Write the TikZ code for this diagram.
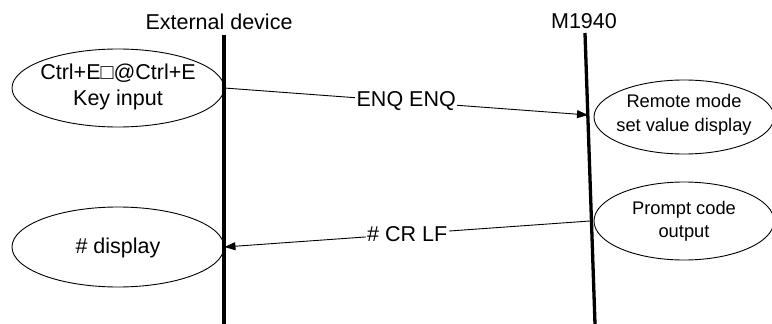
\documentclass[tikz,border=0pt]{standalone}
\usepackage{fontspec}
\setmainfont{Liberation Sans}
\usetikzlibrary{arrows.meta,shapes.geometric}
\begin{document}
\begin{tikzpicture}[x=1pt,y=-1pt,
  big/.style={font=\fontsize{21.5}{26}\selectfont, align=center, inner sep=0pt},
  small/.style={font=\fontsize{18.3}{23.5}\selectfont, align=center, inner sep=0pt},
  oval/.style={draw, ellipse, line width=0.9pt, inner sep=0pt},
  life/.style={line width=3.3pt},
  msg/.style={line width=0.9pt, -{Triangle[length=11pt,width=8pt]}},
  lbl/.style={fill=white, inner sep=1.5pt, font=\fontsize{21.5}{26}\selectfont}]
\useasboundingbox (0,0) rectangle (772,324);

% headers
\node[big] (hExt) at (219,22) {External device};
\node[big] (hM) at (584,21) {M1940};

% lifelines
\coordinate (lt1) at (224,35);
\coordinate (lb1) at (224,324);
\coordinate (lt2) at (585,33);
\coordinate (lb2) at (595,324);
\draw[life] (lt1) -- (lb1);
\draw[life] (lt2) -- (lb2);

% ellipses
\node[oval, minimum width=212pt, minimum height=78pt] (e1) at (118,88) {};
\node[big] (t1) at (118,86.5) {Ctrl+E□@Ctrl+E\\Key input};

\node[oval, minimum width=180pt, minimum height=74pt] (e2) at (684,117) {};
\node[small] (t2) at (684,115) {Remote mode\\set value display};

\node[oval, minimum width=180pt, minimum height=78pt] (e3) at (684,221) {};
\node[small] (t3) at (684,221.5) {Prompt code\\output};

\node[oval, minimum width=212pt, minimum height=80pt] (e4) at (118,247) {};
\node[big] (t4) at (118,248) {\# display};

% message end points on lifelines
\coordinate (r1) at (588,115);
\coordinate (r2) at (590,221);

\draw[msg] (e1.east) -- node[lbl] (m1) {ENQ ENQ} (r1);
\draw[msg] (r2) -- node[lbl] (m2) {\# CR LF} (e4.east);
\end{tikzpicture}
\end{document}
